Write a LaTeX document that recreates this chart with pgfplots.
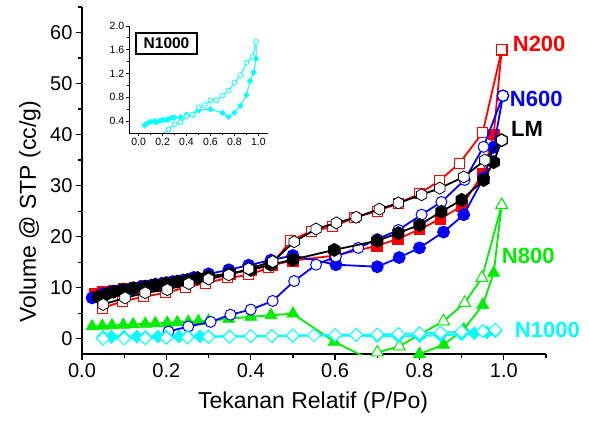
\documentclass[border=0pt]{standalone}
\usepackage{fontspec}
\setmainfont{Liberation Sans}
\usepackage{pgfplots}
\pgfplotsset{compat=1.18}
\pgfdeclareplotmark{hexagon}{%
 \pgfpathmoveto{\pgfpointpolar{90}{\pgfplotmarksize}}%
 \pgfpathlineto{\pgfpointpolar{150}{\pgfplotmarksize}}%
 \pgfpathlineto{\pgfpointpolar{210}{\pgfplotmarksize}}%
 \pgfpathlineto{\pgfpointpolar{270}{\pgfplotmarksize}}%
 \pgfpathlineto{\pgfpointpolar{330}{\pgfplotmarksize}}%
 \pgfpathlineto{\pgfpointpolar{30}{\pgfplotmarksize}}%
 \pgfpathclose\pgfusepathqfillstroke}
\pgfdeclareplotmark{rdiamond}{%
 \pgfpathmoveto{\pgfqpoint{0pt}{\pgfplotmarksize}}%
 \pgfpathlineto{\pgfqpoint{\pgfplotmarksize}{0pt}}%
 \pgfpathlineto{\pgfqpoint{0pt}{-\pgfplotmarksize}}%
 \pgfpathlineto{\pgfqpoint{-\pgfplotmarksize}{0pt}}%
 \pgfpathclose\pgfusepathqfillstroke}
\pgfdeclareplotmark{tri}{%
 \pgfpathmoveto{\pgfpointpolar{90}{\pgfplotmarksize}}%
 \pgfpathlineto{\pgfpointpolar{210}{\pgfplotmarksize}}%
 \pgfpathlineto{\pgfpointpolar{330}{\pgfplotmarksize}}%
 \pgfpathclose\pgfusepathqfillstroke}
\definecolor{mygreen}{RGB}{0,238,0}
\definecolor{mycyan}{RGB}{0,255,255}
\begin{document}
\begin{tikzpicture}
\path[use as bounding box] (-82pt,-67pt) rectangle (507pt,354pt);
\begin{axis}[
  at={(0,0)}, anchor=south west, scale only axis,
  width=464pt, height=347pt,
  xmin=0, xmax=1.1, ymin=-3, ymax=65,
  axis x line*=bottom, axis y line*=left,
  axis line style={-, line width=1.2pt},
  xtick={0,0.2,0.4,0.6,0.8,1.0},
  xticklabels={0.0,0.2,0.4,0.6,0.8,1.0},
  minor xtick={0.1,0.3,0.5,0.7,0.9,1.1},
  ytick={0,10,20,30,40,50,60},
  minor ytick={5,15,25,35,45,55,65},
  tick align=outside, major tick length=6pt, minor tick length=4pt,
  every tick/.style={black, line width=1.2pt},
  /pgf/number format/assume math mode=true,
  tick label style={font=\fontsize{20}{24}\selectfont},
  xlabel={Tekanan Relatif (P/Po)},
  ylabel={Volume @ STP (cc/g)},
  label style={font=\fontsize{23}{27}\selectfont},
  xlabel style={at={(axis description cs:0.498,-0.141)}, anchor=center},
  ylabel style={at={(axis description cs:-0.112,0.41)}, anchor=center},
  clip mode=individual,
]
% N800 adsorption
\addplot[mygreen, line width=1.8pt, mark=tri, mark size=7pt, mark options={fill=mygreen, line width=0.6pt}] coordinates {
(0.024,2.4)(0.048,2.5)(0.071,2.6)(0.098,2.7)(0.121,2.8)(0.15,2.9)(0.174,3.0)(0.202,3.1)(0.226,3.2)(0.252,3.3)(0.276,3.4)(0.30,3.5)(0.348,3.9)(0.40,4.3)(0.448,4.6)(0.50,4.9)(0.598,-0.6)(0.70,-4.8)(0.75,-4.5)(0.80,-3.0)(0.857,-1.2)(0.905,1.8)(0.95,6.6)(0.976,12.9)(0.995,26.2)};
% N800 desorption
\addplot[mygreen, line width=1.8pt, mark=tri, mark size=7pt, mark options={fill=white, line width=1pt}] coordinates {
(0.995,26.2)(0.948,11.9)(0.907,7.0)(0.857,3.4)(0.80,0.8)(0.752,-1.5)(0.70,-2.7)(0.65,-5.5)};
% N200 adsorption
\addplot[red, line width=1.8pt, mark=square*, mark size=5pt, mark options={fill=red}] coordinates {
(0.03,8.8)(0.05,9.1)(0.075,9.4)(0.10,9.7)(0.125,10.0)(0.15,10.3)(0.175,10.6)(0.20,10.9)(0.225,11.1)(0.25,11.4)(0.275,11.7)(0.30,12.0)(0.35,12.7)(0.40,13.5)(0.45,14.4)(0.50,15.3)(0.60,16.3)(0.70,18.2)(0.75,19.6)(0.80,21.4)(0.85,23.5)(0.90,26.0)(0.95,32.3)(0.976,40.0)(0.995,56.6)};
% N200 desorption
\addplot[red, line width=1.8pt, mark=square*, mark size=5pt, mark options={fill=white, line width=1pt}] coordinates {
(0.995,56.6)(0.95,40.4)(0.895,34.4)(0.848,31.0)(0.80,28.4)(0.75,26.5)(0.70,25.0)(0.645,23.7)(0.595,21.9)(0.543,21.1)(0.495,19.2)(0.443,13.9)(0.395,12.5)(0.345,11.9)(0.293,10.9)(0.245,10.0)(0.198,9.0)(0.145,8.2)(0.095,7.3)(0.048,6.0)};
% N600 adsorption
\addplot[blue, line width=1.8pt, mark=*, mark size=5.5pt, mark options={fill=blue}] coordinates {
(0.024,8.0)(0.05,8.8)(0.067,9.1)(0.09,9.5)(0.115,9.8)(0.14,10.2)(0.165,10.5)(0.19,10.8)(0.215,11.2)(0.24,11.5)(0.265,12.0)(0.30,12.7)(0.348,13.5)(0.395,14.4)(0.448,15.4)(0.50,16.3)(0.602,14.5)(0.70,14.1)(0.752,15.9)(0.80,17.8)(0.857,20.9)(0.905,24.3)(0.952,31.5)(0.976,37.5)(0.998,47.6)};
% N600 desorption
\addplot[blue, line width=1.8pt, mark=*, mark size=5.5pt, mark options={fill=white, line width=1pt}] coordinates {
(0.998,47.6)(0.952,37.6)(0.907,31.1)(0.852,26.8)(0.805,24.3)(0.75,21.3)(0.70,19.5)(0.655,17.8)(0.602,16.1)(0.555,14.5)(0.503,11.3)(0.452,7.4)(0.40,5.7)(0.352,4.7)(0.305,3.3)(0.252,2.4)(0.205,1.4)};
% LM adsorption
\addplot[black, line width=1.8pt, mark=hexagon, mark size=6pt, mark options={fill=black}] coordinates {
(0.038,8.2)(0.055,8.6)(0.075,9.2)(0.098,9.6)(0.122,9.9)(0.15,10.2)(0.174,10.6)(0.20,10.9)(0.226,11.2)(0.25,11.5)(0.274,11.9)(0.30,12.2)(0.35,12.8)(0.40,13.5)(0.448,14.5)(0.50,15.5)(0.598,17.4)(0.70,19.2)(0.75,20.7)(0.80,22.3)(0.852,24.9)(0.90,27.2)(0.952,31.1)(0.976,34.6)(0.995,38.9)};
% LM desorption
\addplot[black, line width=1.8pt, mark=hexagon, mark size=6pt, mark options={fill=white, line width=0.8pt}] coordinates {
(0.995,38.9)(0.955,35.0)(0.905,31.7)(0.848,29.5)(0.805,28.2)(0.75,26.6)(0.705,25.4)(0.65,23.8)(0.603,22.7)(0.555,21.5)(0.503,19.0)(0.452,15.1)(0.395,13.7)(0.348,12.5)(0.30,11.7)(0.253,10.8)(0.202,9.6)(0.15,9.0)(0.102,8.0)(0.05,6.7)};
% N1000 adsorption
\addplot[mycyan, line width=1.8pt, mark=rdiamond, mark size=6.5pt, mark options={fill=mycyan, line width=0.6pt}] coordinates {
(0.05,0.33)(0.07,0.36)(0.10,0.39)(0.13,0.40)(0.15,0.38)(0.18,0.41)(0.20,0.42)(0.23,0.42)(0.25,0.43)(0.28,0.46)(0.30,0.46)(0.35,0.46)(0.40,0.51)(0.45,0.50)(0.50,0.58)(0.60,0.60)(0.70,0.54)(0.75,0.47)(0.80,0.54)(0.85,0.66)(0.90,0.84)(0.93,1.07)(0.96,1.22)(0.98,1.45)(0.98,1.73)};
% N1000 desorption
\addplot[mycyan, line width=1.8pt, mark=rdiamond, mark size=6.5pt, mark options={fill=white, line width=1pt}] coordinates {
(0.98,1.73)(0.95,1.48)(0.90,1.38)(0.85,1.17)(0.80,1.05)(0.75,0.91)(0.70,0.83)(0.65,0.75)(0.60,0.75)(0.55,0.67)(0.50,0.63)(0.45,0.51)(0.40,0.48)(0.35,0.38)(0.30,0.35)(0.25,0.26)(0.20,0.19)(0.15,0.12)(0.10,0.06)(0.05,0.0)};
\node[anchor=west, text=red, font=\bfseries\fontsize{22}{26}\selectfont, inner sep=0pt] at (axis cs:1.021,57.7) {N200};
\node[anchor=west, text=blue, font=\bfseries\fontsize{22}{26}\selectfont, inner sep=0pt] at (axis cs:1.014,47.0) {N600};
\node[anchor=west, text=black, font=\bfseries\fontsize{22}{26}\selectfont, inner sep=0pt] at (axis cs:1.017,41.1) {LM};
\node[anchor=west, text=mygreen, font=\bfseries\fontsize{22}{26}\selectfont, inner sep=0pt] at (axis cs:0.995,16.2) {N800};
\node[anchor=west, text=mycyan, font=\bfseries\fontsize{22}{26}\selectfont, inner sep=0pt] at (axis cs:1.026,1.8) {N1000};
\end{axis}
\begin{axis}[
  at={(47pt,221pt)}, anchor=south west, scale only axis,
  width=139pt, height=107pt,
  xmin=-0.08, xmax=1.08, ymin=0.2, ymax=2.0,
  axis x line*=bottom, axis y line*=left,
  axis line style={-, line width=0.8pt},
  xtick={0,0.2,0.4,0.6,0.8,1.0},
  xticklabels={0.0,0.2,0.4,0.6,0.8,1.0},
  minor xtick={0.1,0.3,0.5,0.7,0.9},
  ytick={0.4,0.8,1.2,1.6,2.0},
  yticklabels={0.4,0.8,1.2,1.6,2.0},
  minor ytick={0.6,1.0,1.4,1.8},
  tick align=outside, major tick length=3pt, minor tick length=2pt,
  every tick/.style={black, line width=0.8pt},
  /pgf/number format/assume math mode=true,
  tick label style={font=\fontsize{10.5}{12}\selectfont, inner sep=1.5pt},
  clip mode=individual,
]
\addplot[mycyan, line width=1pt, mark=rdiamond, mark size=2.8pt, mark options={fill=mycyan, line width=0.4pt}] coordinates {
(0.05,0.33)(0.07,0.36)(0.10,0.39)(0.13,0.40)(0.15,0.38)(0.18,0.41)(0.20,0.42)(0.23,0.42)(0.25,0.43)(0.28,0.46)(0.30,0.46)(0.35,0.46)(0.40,0.51)(0.45,0.50)(0.50,0.58)(0.60,0.60)(0.70,0.54)(0.75,0.47)(0.80,0.54)(0.85,0.66)(0.90,0.84)(0.93,1.07)(0.96,1.22)(0.98,1.45)(0.98,1.73)};
\addplot[mycyan, line width=1pt, mark=*, mark size=2.5pt, mark options={fill=white, line width=0.7pt}] coordinates {
(0.98,1.73)(0.95,1.48)(0.90,1.38)(0.85,1.17)(0.80,1.05)(0.75,0.91)(0.70,0.83)(0.65,0.75)(0.60,0.75)(0.55,0.67)(0.50,0.63)(0.45,0.51)(0.40,0.48)(0.35,0.38)(0.30,0.35)(0.25,0.26)(0.20,0.19)(0.15,0.12)(0.10,0.06)(0.05,0.0)};
\node[draw=black, line width=1.2pt, fill=white, minimum width=61pt, minimum height=21pt, inner sep=0pt, font=\bfseries\fontsize{15.5}{18}\selectfont] at (rel axis cs:0.27,0.836) {N1000};
\end{axis}
\end{tikzpicture}
\end{document}
